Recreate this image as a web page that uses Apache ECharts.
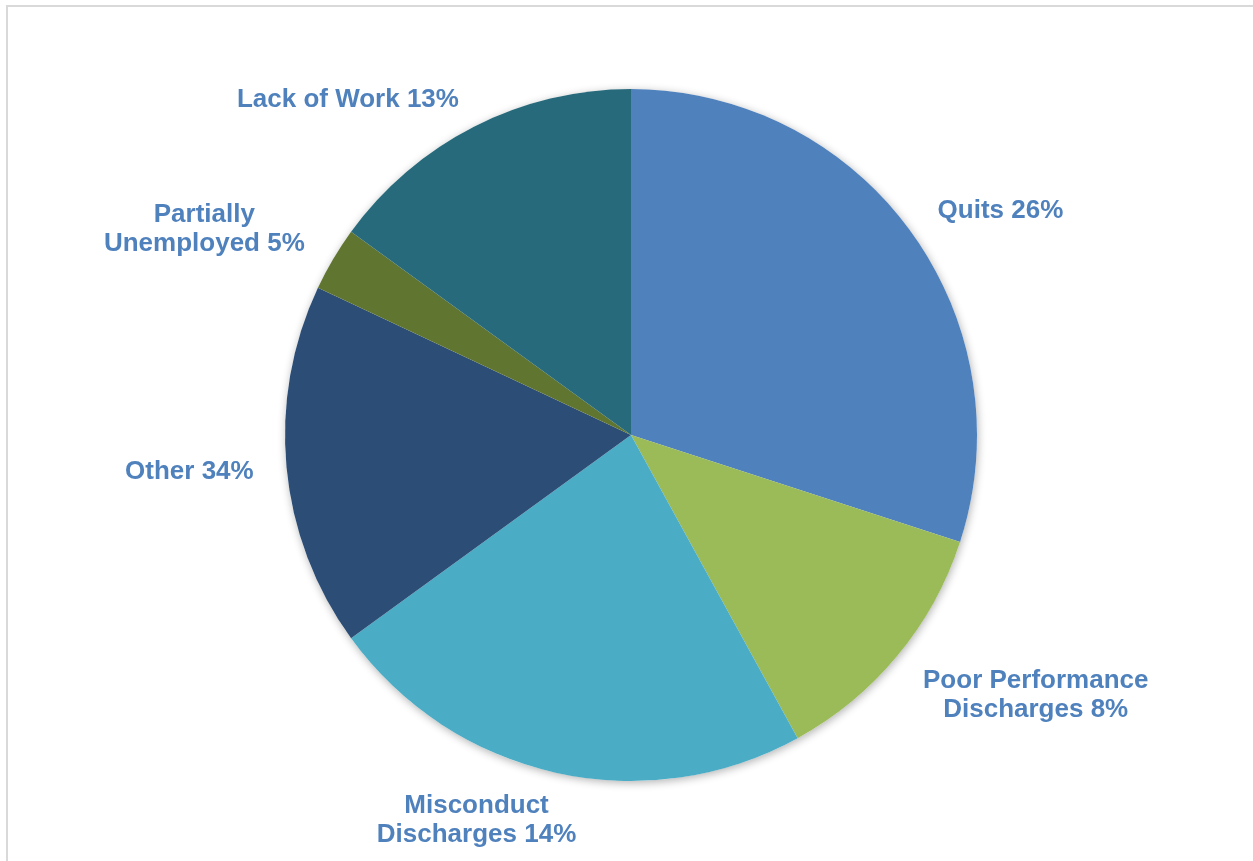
<!DOCTYPE html>
<html>
<head>
<meta charset="utf-8">
<script src="https://cdn.jsdelivr.net/npm/echarts@6/dist/echarts.min.js"></script>
<style>
html,body{margin:0;padding:0;background:#fff;}
#chart{width:1253px;height:861px;}
</style>
</head>
<body>
<div id="chart"></div>
<script>
// Data (slice sizes, labels as printed)
const categories = ['Quits', 'Poor Performance Discharges', 'Misconduct Discharges', 'Other', 'Partially Unemployed', 'Lack of Work'];
const sliceValues = [30, 12, 23, 17, 3, 15];
const labelTexts = ['Quits 26%', 'Poor Performance\nDischarges 8%', 'Misconduct\nDischarges 14%', 'Other 34%', 'Partially\nUnemployed 5%', 'Lack of Work 13%'];
const colors = ['#4F81BD', '#9BBB59', '#4BACC6', '#2C4D75', '#5F7530', '#276A7C'];

const CX = 631, CY = 435, R = 346, GAPX = 33, GAPY_UP = 14, GAPY_DOWN = 19, KX = 3.3, KY = 1.5;
const total = sliceValues.reduce((a, b) => a + b, 0);
const midAngles = [];
let acc = 0;
sliceValues.forEach(v => { midAngles.push((acc + v / 2) / total * 2 * Math.PI); acc += v; });
const clamp = v => Math.max(-1, Math.min(1, v));

const chart = echarts.init(document.getElementById('chart'), null, {renderer: 'canvas'});
chart.setOption({
  animation: false,
  backgroundColor: '#ffffff',
  graphic: [{
    type: 'rect', silent: true, z: -10,
    shape: {x: 7, y: 6, width: 1250, height: 900},
    style: {fill: 'none', stroke: '#d9d9d9', lineWidth: 2}
  }],
  series: [{
    type: 'pie',
    z: 1,
    silent: true,
    center: [CX, CY],
    radius: R,
    data: [{value: 1, itemStyle: {color: '#ffffff', shadowBlur: 8, shadowColor: 'rgba(0,0,0,0.3)', shadowOffsetX: 1, shadowOffsetY: 2}}],
    label: {show: false},
    labelLine: {show: false},
    emphasis: {disabled: true}
  }, {
    type: 'pie',
    z: 2,
    center: [CX, CY],
    radius: R,
    startAngle: 90,
    clockwise: true,
    data: categories.map((c, i) => ({name: c, value: sliceValues[i], itemStyle: {color: colors[i]}})),
    itemStyle: {borderWidth: 0},
    label: {
      show: true,
      position: 'outside',
      formatter: p => labelTexts[p.dataIndex],
      color: '#4F81BD',
      fontFamily: 'Liberation Sans',
      fontWeight: 'bold',
      fontSize: 26,
      lineHeight: 29,
      align: 'center'
    },
    labelLine: {show: false},
    labelLayout: function (params) {
      const i = params.dataIndex;
      const a = midAngles[i];
      const dx = Math.sin(a), dy = -Math.cos(a);
      const px = CX + dx * (R + GAPX);
      const py = CY + dy * (R + (dy > 0 ? GAPY_DOWN : GAPY_UP));
      const w = params.labelRect.width, h = params.labelRect.height;
      return {x: px + clamp(KX * dx) * w / 2, y: py + clamp(KY * dy) * h / 2, align: 'center', verticalAlign: 'middle'};
    },
    emphasis: {disabled: true}
  }]
});
</script>
</body>
</html>
